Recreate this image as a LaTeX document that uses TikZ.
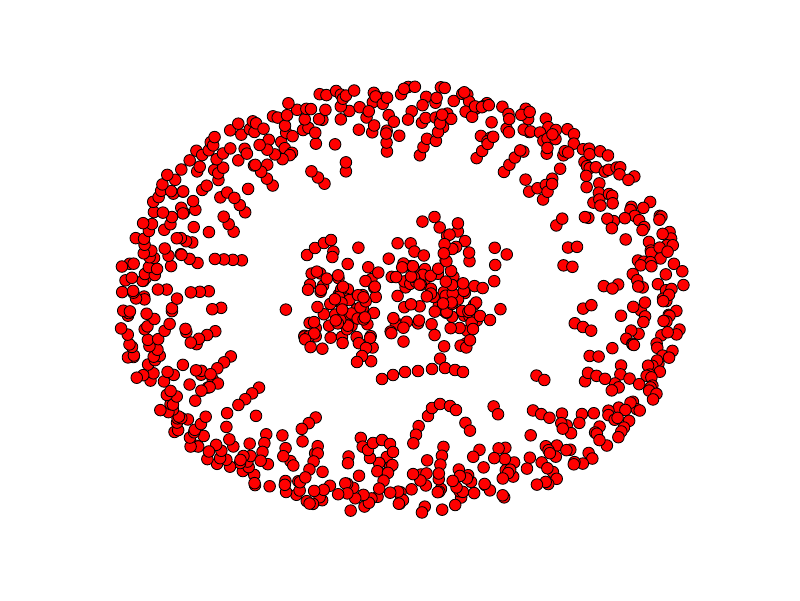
\documentclass[tikz,border=0pt]{standalone}
\usepackage{tikz}
\begin{document}
\begin{tikzpicture}[x=0.025cm,y=-0.025cm,
  dot/.style={circle,draw=black,fill=red,line width=0.6pt,inner sep=0pt,minimum size=0.29cm}
]
\useasboundingbox (0,0) rectangle (800,600);
\pgfmathsetseed{4217}
\foreach \i in {1,...,580}{
  \pgfmathsetmacro\a{0.62069*\i+3*rnd}
  \pgfmathsetmacro\r{1-0.3*rnd*(0.3+0.7*rnd)}
  \node[dot] (o\i) at ({400+287*\r*cos(\a)},{300+215*\r*sin(\a)}) {};
}
\foreach \j in {1,...,40}{
  \pgfmathsetmacro\a{9*\j+6*rnd}
  \pgfmathsetmacro\rr{0.58+0.2*rnd}
  \pgfmathsetmacro\b{\a+60*(rnd-0.5)}
  \pgfmathtruncatemacro\n{2+3*rnd}
  \foreach \k in {1,...,\n}{
    \node[dot] (c\j-\k) at ({400+287*\rr*cos(\a)+9*(\k-1)*cos(\b)},{300+215*\rr*sin(\a)+9*(\k-1)*sin(\b)}) {};
  }
}
\foreach \i in {1,...,90}{
  \node[dot] (l\i) at ({348+32*(rnd+rnd+rnd-1.5)*2},{305+24*(rnd+rnd+rnd-1.5)*2}) {};
}
\foreach \i in {1,...,100}{
  \node[dot] (q\i) at ({440+26*(rnd+rnd+rnd-1.5)*2},{285+34*(rnd+rnd+rnd-1.5)*2}) {};
}
\foreach \x/\y [count=\i] in {382/379,393/375,405/372,418/371,432/369,445/368,455/370,463/372}
  \node[dot] (m\i) at (\x,\y) {};
\foreach \x/\y [count=\i] in {370/458,368/450,373/443,382/440,390/444,393/452}
  \node[dot] (u\i) at (\x,\y) {};
\foreach \x/\y [count=\i] in {428/416,432/408,440/404,450/406,456/410}
  \node[dot] (v\i) at (\x,\y) {};
\foreach \x/\y [count=\i] in {307/255,315/248,324/243,331/240}
  \node[dot] (s\i) at (\x,\y) {};
\foreach \x/\y [count=\i] in {370/338,366/348,362/356,357/362}
  \node[dot] (t\i) at (\x,\y) {};
\foreach \x/\y [count=\i] in {470/310,480/316,490/320}
  \node[dot] (w\i) at (\x,\y) {};
\end{tikzpicture}
\end{document}
